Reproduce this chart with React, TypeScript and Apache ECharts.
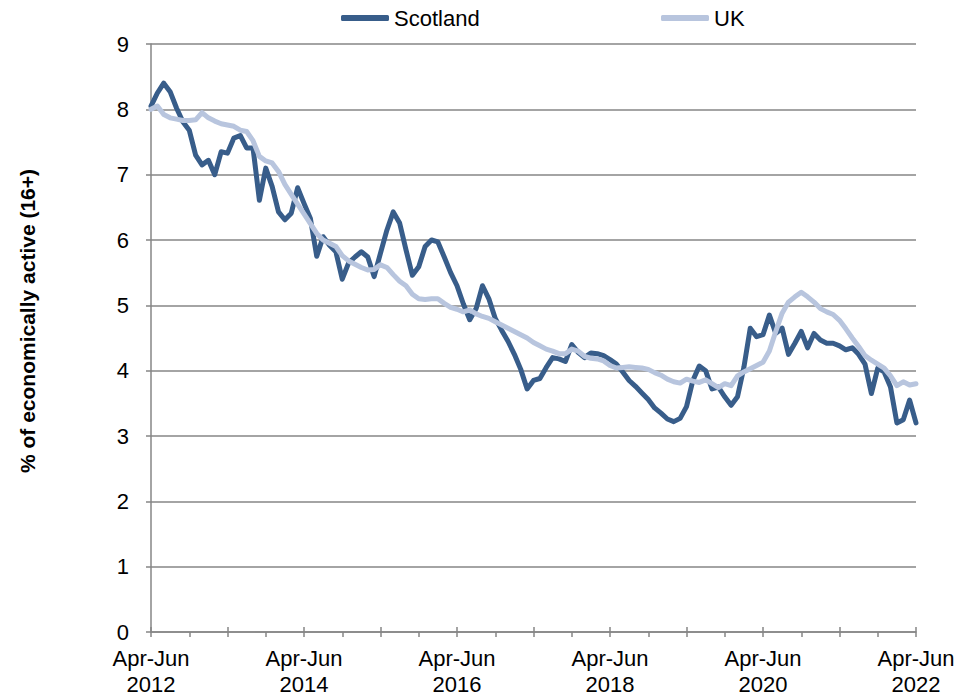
import React, { useEffect, useRef } from "react";
import * as echarts from "echarts";

const monthNames = ["Jan", "Feb", "Mar", "Apr", "May", "Jun", "Jul", "Aug", "Sep", "Oct", "Nov", "Dec"];

// Rolling three-month periods, Apr-Jun 2012 to Apr-Jun 2022
const categories: string[] = [];
for (let i = 0; i <= 120; i++) {
  const m = (3 + i) % 12;
  const e = (m + 2) % 12;
  const year = 2012 + Math.floor((3 + i + 2) / 12);
  categories.push(`${monthNames[m]}-${monthNames[e]} ${year}`);
}

const scotland = [
  8.05, 8.25, 8.4, 8.27, 8.02, 7.81, 7.68, 7.3, 7.15, 7.22, 7.0, 7.35,
  7.33, 7.56, 7.6, 7.41, 7.41, 6.61, 7.1, 6.82, 6.43, 6.31, 6.41, 6.8,
  6.56, 6.33, 5.75, 6.05, 5.92, 5.82, 5.4, 5.65, 5.74, 5.82, 5.74, 5.44,
  5.8, 6.15, 6.43, 6.26, 5.85, 5.46, 5.59, 5.9, 6.0, 5.97, 5.74, 5.5,
  5.3, 5.02, 4.78, 4.95, 5.3, 5.1, 4.8, 4.62, 4.45, 4.25, 4.02, 3.72,
  3.85, 3.88, 4.05, 4.2, 4.18, 4.14, 4.4, 4.28, 4.2, 4.27, 4.26, 4.23,
  4.17, 4.1, 3.98, 3.85, 3.76, 3.66, 3.56, 3.43, 3.35, 3.26, 3.22, 3.27,
  3.45, 3.85, 4.07, 4.0, 3.72, 3.75, 3.6, 3.47, 3.6, 4.05, 4.65, 4.52,
  4.55, 4.85, 4.57, 4.65, 4.25, 4.42, 4.6, 4.35, 4.57, 4.47, 4.42, 4.42,
  4.38, 4.32, 4.35, 4.25, 4.1, 3.65, 4.04, 3.98, 3.75, 3.2, 3.25, 3.55,
  3.2,
];

const uk = [
  8.0, 8.05, 7.92, 7.87, 7.85, 7.83, 7.83, 7.84, 7.95, 7.87, 7.82, 7.78,
  7.76, 7.74, 7.68, 7.66, 7.52, 7.28, 7.21, 7.18, 7.05, 6.85, 6.7, 6.55,
  6.4, 6.25, 6.1, 6.0, 5.95, 5.9, 5.76, 5.68, 5.63, 5.58, 5.54, 5.55,
  5.62, 5.58, 5.47, 5.37, 5.3, 5.17, 5.1, 5.09, 5.1, 5.1, 5.03, 4.97,
  4.94, 4.9, 4.93, 4.87, 4.83, 4.8, 4.75, 4.7, 4.65, 4.6, 4.55, 4.5,
  4.43, 4.38, 4.33, 4.3, 4.26, 4.26, 4.33, 4.3, 4.22, 4.19, 4.18, 4.15,
  4.08, 4.04, 4.05, 4.06, 4.05, 4.04, 4.02, 3.97, 3.93, 3.87, 3.83, 3.81,
  3.87, 3.84, 3.82, 3.86, 3.8, 3.74, 3.8, 3.77, 3.92, 3.98, 4.03, 4.08,
  4.13, 4.3, 4.6, 4.88, 5.05, 5.13, 5.2, 5.13, 5.05, 4.95, 4.9, 4.86,
  4.77, 4.64, 4.5, 4.37, 4.23, 4.16, 4.1, 4.04, 3.92, 3.77, 3.83, 3.78,
  3.8,
];

const yTitle = "% of economically active (16+)";
const FONT = "'Liberation Sans', Arial, sans-serif";
const AXIS_GREY = "#868686";

export default function App() {
  const ref = useRef<HTMLDivElement>(null);
  useEffect(() => {
    if (!ref.current) return;
    const chart = echarts.init(ref.current, undefined, { renderer: "svg" });
    chart.setOption({
      animation: false,
      textStyle: { fontFamily: FONT },
      grid: { left: 151, top: 44, width: 765, height: 588, containLabel: false },
      legend: [
        {
          data: ["Scotland"],
          left: 336,
          top: 2,
          icon: "roundRect",
          itemWidth: 48,
          itemHeight: 6,
          textStyle: { fontSize: 22, color: "#000", fontFamily: FONT },
        },
        {
          data: ["UK"],
          left: 656,
          top: 2,
          icon: "roundRect",
          itemWidth: 48,
          itemHeight: 6,
          textStyle: { fontSize: 22, color: "#000", fontFamily: FONT },
        },
      ],
      xAxis: [
        {
          type: "category",
          data: categories,
          boundaryGap: false,
          position: "bottom",
          axisLine: { show: true, lineStyle: { color: AXIS_GREY, width: 1.5 } },
          axisTick: { show: true, interval: 5, length: 5, inside: false, lineStyle: { color: AXIS_GREY, width: 1.5 } },
          axisLabel: {
            interval: (i: number) => i % 24 === 0,
            formatter: (v: string) => v.replace(" ", "\n"),
            fontSize: 22,
            lineHeight: 26,
            color: "#000",
            margin: 13,
            fontFamily: FONT,
          },
          splitLine: { show: false },
        },
        {
          type: "category",
          data: categories,
          boundaryGap: false,
          position: "bottom",
          offset: 0,
          axisLine: { show: false },
          axisTick: { show: true, interval: 11, length: 5, inside: true, lineStyle: { color: AXIS_GREY, width: 1.5 } },
          axisLabel: { show: false },
          splitLine: { show: false },
        },
      ],
      yAxis: {
        type: "value",
        min: 0,
        max: 9,
        interval: 1,
        axisLine: { show: true, lineStyle: { color: AXIS_GREY, width: 1.5 } },
        axisTick: { show: true, length: 5, lineStyle: { color: AXIS_GREY, width: 1.5 } },
        axisLabel: { fontSize: 22, color: "#000", margin: 22, fontFamily: FONT },
        splitLine: { show: true, lineStyle: { color: AXIS_GREY, width: 1.5 } },
      },
      graphic: [
        {
          type: "text",
          x: 27,
          y: 321,
          rotation: Math.PI / 2,
          style: {
            text: yTitle,
            fontSize: 21,
            fontWeight: "bold",
            fontFamily: FONT,
            fill: "#000",
            textAlign: "center",
            textVerticalAlign: "middle",
          },
        },
      ],
      series: [
        {
          name: "Scotland",
          type: "line",
          data: scotland,
          symbol: "none",
          smooth: false,
          color: "#385D8A",
          lineStyle: { color: "#385D8A", width: 5, join: "round", cap: "round" },
        },
        {
          name: "UK",
          type: "line",
          data: uk,
          symbol: "none",
          smooth: false,
          color: "#B8C5DE",
          lineStyle: { color: "#B8C5DE", width: 5, join: "round", cap: "round" },
        },
      ],
    });
    return () => chart.dispose();
  }, []);
  return (
    <div
      ref={ref}
      style={{ position: "fixed", left: 0, top: 0, width: 978, height: 699, background: "#fff" }}
    />
  );
}
